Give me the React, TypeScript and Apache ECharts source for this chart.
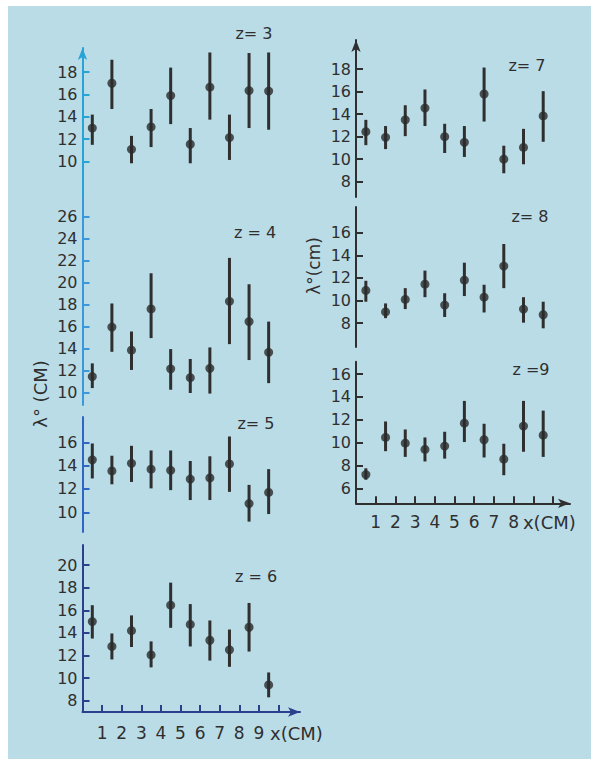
import React, { useEffect, useRef } from "react";
import * as echarts from "echarts";

// Sampling stations along x (cm), plotted midway between the tick marks
const positions = [0.5, 1.5, 2.5, 3.5, 4.5, 5.5, 6.5, 7.5, 8.5, 9.5];

// λ° (cm) at each station: mean with lower / upper error bounds
const z3Mean = [13.0, 17.0, 11.1, 13.1, 15.9, 11.55, 16.65, 12.15, 16.35, 16.3];
const z3Low = [11.5, 14.7, 9.85, 11.3, 13.35, 9.85, 13.75, 10.15, 13.0, 12.85];
const z3High = [14.2, 19.1, 12.3, 14.7, 18.4, 13.0, 19.75, 14.2, 19.7, 19.75];

const z4Mean = [11.45, 15.95, 13.85, 17.6, 12.15, 11.35, 12.2, 18.3, 16.45, 13.65];
const z4Low = [10.4, 13.7, 12.05, 14.95, 10.25, 9.95, 9.9, 14.4, 12.95, 10.85];
const z4High = [12.65, 18.1, 15.55, 20.85, 13.95, 13.05, 14.1, 22.25, 19.85, 16.45];

const z5Mean = [14.5, 13.55, 14.2, 13.7, 13.6, 12.85, 12.95, 14.15, 10.75, 11.7];
const z5Low = [12.9, 12.4, 12.6, 12.05, 11.9, 11.05, 11.05, 11.75, 9.2, 9.85];
const z5High = [15.9, 14.85, 15.7, 15.3, 15.3, 14.4, 14.8, 16.5, 12.35, 13.7];

const z6Mean = [15.0, 12.8, 14.2, 12.05, 16.45, 14.75, 13.35, 12.5, 14.5, 9.4];
const z6Low = [13.5, 11.65, 12.75, 10.95, 14.45, 12.8, 11.55, 11.0, 12.35, 8.3];
const z6High = [16.45, 13.95, 15.55, 13.25, 18.45, 16.55, 15.1, 14.3, 16.65, 10.5];

const z7Mean = [12.45, 11.95, 13.5, 14.55, 12.0, 11.5, 15.8, 10.0, 11.05, 13.85];
const z7Low = [11.25, 10.9, 12.05, 12.95, 10.55, 10.2, 13.35, 8.75, 9.55, 11.55];
const z7High = [13.5, 12.95, 14.8, 16.2, 13.15, 12.95, 18.15, 11.2, 12.7, 16.05];

const z8Mean = [10.9, 9.0, 10.1, 11.45, 9.6, 11.8, 10.3, 13.05, 9.25, 8.75];
const z8Low = [9.9, 8.45, 9.25, 10.3, 8.55, 10.4, 8.95, 11.1, 8.05, 7.55];
const z8High = [11.75, 9.75, 11.1, 12.65, 10.65, 13.35, 11.4, 15.0, 10.3, 9.9];

const z9Mean = [7.2, 10.45, 9.95, 9.4, 9.7, 11.7, 10.25, 8.55, 11.45, 10.65];
const z9Low = [6.75, 9.25, 8.75, 8.35, 8.6, 10.05, 8.7, 7.15, 9.2, 8.75];
const z9High = [7.75, 11.85, 11.15, 10.45, 10.95, 13.65, 11.65, 9.9, 13.65, 12.8];

// Tick values
const z3Ticks = [10, 12, 14, 16, 18];
const z4Ticks = [10, 12, 14, 16, 18, 20, 22, 24, 26];
const z5Ticks = [10, 12, 14, 16];
const z6Ticks = [8, 10, 12, 14, 16, 18, 20];
const z7Ticks = [8, 10, 12, 14, 16, 18];
const z8Ticks = [8, 10, 12, 14, 16];
const z9Ticks = [6, 8, 10, 12, 14, 16];
const xTicks = [1, 2, 3, 4, 5, 6, 7, 8, 9, 10];
const xLabelsLeft = [1, 2, 3, 4, 5, 6, 7, 8, 9];
const xLabelsRight = [1, 2, 3, 4, 5, 6, 7, 8];

const INK = "#2f2f2f";
const FONT = "DejaVu Sans";

type Panel = {
  title: string;
  mean: number[];
  low: number[];
  high: number[];
  yTicks: number[];
  yMin: number;
  yMax: number;
  column: "left" | "right";
  top: number;
  height: number;
  axisColor: string;
  arrow: boolean;
  xLabels?: number[];
  titleAt: [number, number];
};

const panels: Panel[] = [
  { title: "z= 3", mean: z3Mean, low: z3Low, high: z3High, yTicks: z3Ticks, yMin: 6.75, yMax: 20.15, column: "left", top: 42, height: 150, axisColor: "#27a3d6", arrow: true, titleAt: [246, 27] },
  { title: "z = 4", mean: z4Mean, low: z4Low, high: z4High, yTicks: z4Ticks, yMin: 8.86, yMax: 27.7, column: "left", top: 192, height: 207, axisColor: "#3a98d8", arrow: false, titleAt: [247, 226] },
  { title: "z= 5", mean: z5Mean, low: z5Low, high: z5High, yTicks: z5Ticks, yMin: 8.31, yMax: 18.17, column: "left", top: 411, height: 115, axisColor: "#2f66c4", arrow: false, titleAt: [248, 417] },
  { title: "z = 6", mean: z6Mean, low: z6Low, high: z6High, yTicks: z6Ticks, yMin: 7.0, yMax: 21.78, column: "left", top: 539, height: 167, axisColor: "#2c3f8c", arrow: false, xLabels: xLabelsLeft, titleAt: [248, 570] },
  { title: "z= 7", mean: z7Mean, low: z7Low, high: z7High, yTicks: z7Ticks, yMin: 6.64, yMax: 20.6, column: "right", top: 34, height: 157, axisColor: INK, arrow: true, titleAt: [519, 59] },
  { title: "z= 8", mean: z8Mean, low: z8Low, high: z8High, yTicks: z8Ticks, yMin: 5.9, yMax: 18.27, column: "right", top: 201, height: 140, axisColor: INK, arrow: false, titleAt: [522, 210] },
  { title: "z =9", mean: z9Mean, low: z9Low, high: z9High, yTicks: z9Ticks, yMin: 4.69, yMax: 17.08, column: "right", top: 355.7, height: 141.6, axisColor: INK, arrow: false, xLabels: xLabelsRight, titleAt: [523, 363] },
];

const columns = {
  left: { left: 74.5, width: 217.5, xMax: 11.1, nameGap: -30 },
  right: { left: 348, width: 214, xMax: 10.86, nameGap: -50 },
};

export default function App() {
  const ref = useRef<HTMLDivElement>(null);

  useEffect(() => {
    if (!ref.current) return;
    const chart = echarts.init(ref.current, null, { renderer: "svg" });

    const grid: any[] = [];
    const xAxis: any[] = [];
    const yAxis: any[] = [];
    const series: any[] = [];
    const graphic: any[] = [];

    panels.forEach((p, i) => {
      const col = columns[p.column];
      grid.push({ left: col.left, width: col.width, top: p.top, height: p.height });

      const hasX = !!p.xLabels;
      xAxis.push({
        gridIndex: i,
        type: "value",
        min: 0,
        max: col.xMax,
        show: hasX,
        name: hasX ? "x(CM)" : "",
        nameLocation: "end",
        nameGap: col.nameGap,
        nameTextStyle: {
          color: INK,
          fontFamily: FONT,
          fontSize: 18,
          align: "left",
          verticalAlign: "top",
          padding: [p.column === "left" ? 12 : 10, 0, 0, 0],
        },
        axisLine: {
          show: true,
          onZero: false,
          symbol: ["none", "arrow"],
          symbolSize: [7, 12],
          lineStyle: { color: p.axisColor, width: 2 },
        },
        axisTick: {
          show: true,
          inside: true,
          length: 7,
          customValues: xTicks,
          lineStyle: { color: p.axisColor, width: 2 },
        },
        axisLabel: {
          show: hasX,
          customValues: p.xLabels || [],
          color: INK,
          fontFamily: FONT,
          fontSize: 17,
          margin: p.column === "left" ? 12 : 10,
        },
        splitLine: { show: false },
      });

      yAxis.push({
        gridIndex: i,
        type: "value",
        min: p.yMin,
        max: p.yMax,
        axisLine: {
          show: true,
          onZero: false,
          symbol: p.arrow ? ["none", "arrow"] : "none",
          symbolSize: [7, 12],
          lineStyle: { color: p.axisColor, width: 2 },
        },
        axisTick: {
          show: true,
          inside: true,
          length: 7,
          customValues: p.yTicks,
          lineStyle: { color: p.axisColor, width: 2 },
        },
        axisLabel: {
          customValues: p.yTicks,
          color: INK,
          fontFamily: FONT,
          fontSize: 16,
          margin: 5,
        },
        splitLine: { show: false },
      });

      series.push({
        type: "custom",
        xAxisIndex: i,
        yAxisIndex: i,
        data: positions.map((x, k) => [x, p.low[k], p.high[k]]),
        encode: { x: 0, y: [1, 2] },
        renderItem: (_params: any, api: any) => {
          const x = api.value(0);
          const lo = api.coord([x, api.value(1)]);
          const hi = api.coord([x, api.value(2)]);
          return {
            type: "line",
            shape: { x1: lo[0], y1: lo[1], x2: hi[0], y2: hi[1] },
            style: { stroke: INK, lineWidth: 3 },
          };
        },
        silent: true,
      });

      series.push({
        type: "scatter",
        xAxisIndex: i,
        yAxisIndex: i,
        data: positions.map((x, k) => [x, p.mean[k]]),
        symbol: "circle",
        symbolSize: 9,
        itemStyle: { color: "#2b2b2b" },
        silent: true,
      });

      graphic.push({
        type: "text",
        x: p.titleAt[0],
        y: p.titleAt[1],
        style: {
          text: p.title,
          fill: INK,
          font: `16px "${FONT}"`,
          align: "center",
          verticalAlign: "middle",
        },
      });
    });

    graphic.push({
      type: "text",
      x: 32,
      y: 388,
      rotation: Math.PI / 2,
      style: { text: "λ° (CM)", fill: INK, font: `18px "${FONT}"`, align: "center", verticalAlign: "middle" },
    });
    graphic.push({
      type: "text",
      x: 306,
      y: 260,
      rotation: Math.PI / 2,
      style: { text: "λ°(cm)", fill: INK, font: `17px "${FONT}"`, align: "center", verticalAlign: "middle" },
    });

    chart.setOption({
      animation: false,
      backgroundColor: "#badce7",
      textStyle: { fontFamily: FONT },
      grid,
      xAxis,
      yAxis,
      series,
      graphic,
    });

    return () => chart.dispose();
  }, []);

  return (
    <div
      ref={ref}
      style={{ position: "fixed", left: 8, top: 6, width: 583, height: 753 }}
    />
  );
}
